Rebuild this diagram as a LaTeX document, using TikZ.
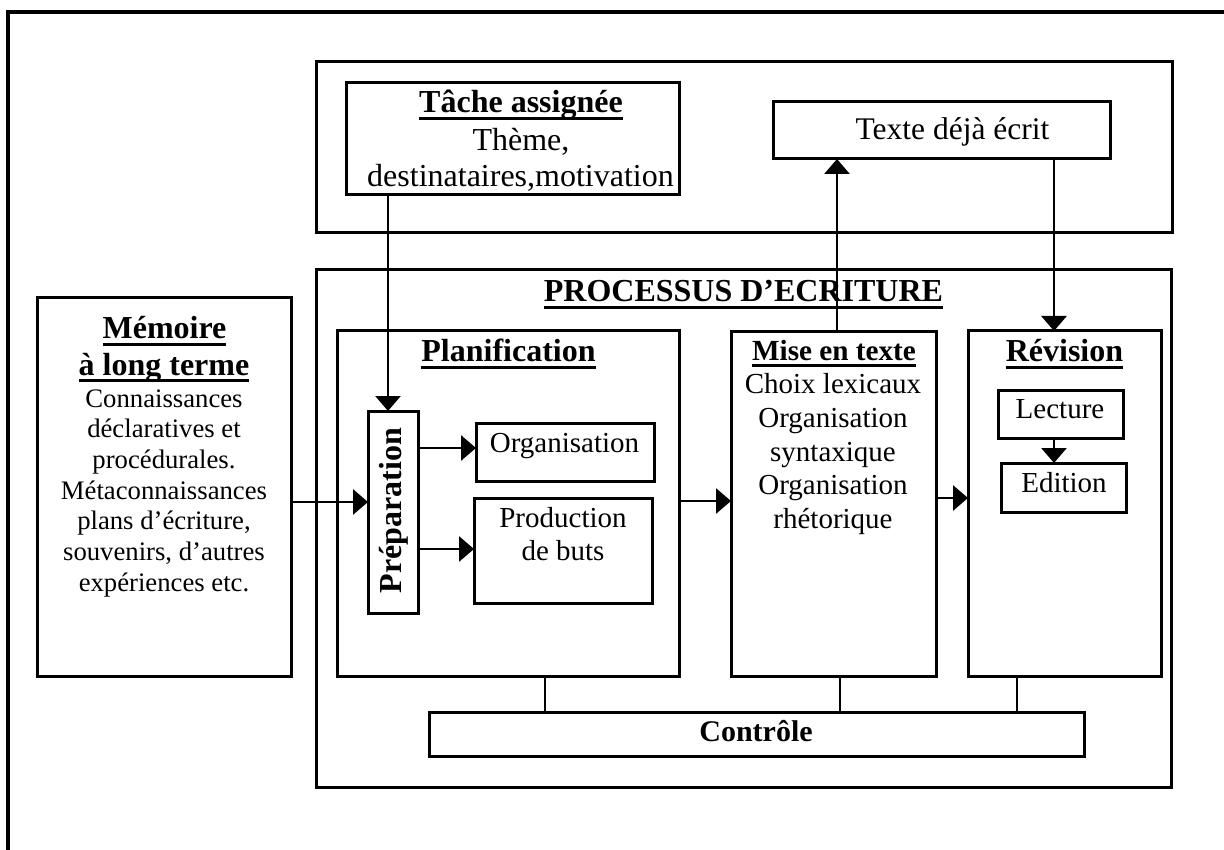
\documentclass[tikz,border=0pt]{standalone}
\usepackage{fontspec}
\setmainfont{Liberation Serif}
\usetikzlibrary{arrows.meta}
\newcommand\ulx[1]{\setbox0\hbox{#1}\rlap{\rule[-7pt]{\wd0}{3pt}}\box0}
\begin{document}
\begin{tikzpicture}[x=1pt,y=-1pt,
  box/.style={draw, line width=3pt, inner sep=0pt, outer sep=0pt},
  conn/.style={line width=2.2pt},
  arr/.style={line width=2.8pt, -{Triangle[width=25pt,length=15pt]}},
  txt/.style={inner sep=0pt, anchor=base},
  fs/.style={font=\fontsize{#1}{#1}\selectfont},
  bfs/.style={font=\fontsize{#1}{#1}\selectfont\bfseries}]
\useasboundingbox (0,0) rectangle (1224,850);
\draw[line width=4pt] (1226,12) -- (8,12) -- (8,852);

% boxes
\node[box, minimum width=856, minimum height=171] (env) at (744,147.5) {};
\node[box, minimum width=333, minimum height=112] (tache) at (512.5,139) {};
\node[box, minimum width=337, minimum height=57] (texte) at (941.5,130.5) {};
\node[box, minimum width=855, minimum height=517] (proc) at (743.5,528.5) {};
\node[box, minimum width=254, minimum height=378] (mem) at (164,487) {};
\node[box, minimum width=342, minimum height=345] (plan) at (508,503.5) {};
\node[box, minimum width=50, minimum height=202] (prep) at (393,512) {};
\node[box, minimum width=178, minimum height=58] (orga) at (565,452) {};
\node[box, minimum width=178, minimum height=105] (prod) at (563,550.5) {};
\node[box, minimum width=205, minimum height=344] (mise) at (833.5,504) {};
\node[box, minimum width=193, minimum height=345] (rev) at (1064.5,503.5) {};
\node[box, minimum width=125, minimum height=48] (lect) at (1060.5,414) {};
\node[box, minimum width=125, minimum height=49] (edit) at (1063.5,487.5) {};
\node[box, minimum width=655, minimum height=44] (ctrl) at (756.5,734) {};

% helper coordinates
\coordinate (xp) at (388,0);
\coordinate (xt) at (837,0);
\coordinate (xa) at (1054,0);
\coordinate (ym) at (0,502);
\coordinate (yo) at (0,448);
\coordinate (yq) at (0,549);
\coordinate (yc) at (0,501);
\coordinate (yr) at (0,498);
\coordinate (c1) at (545,0);
\coordinate (c2) at (840,0);
\coordinate (c3) at (1017,0);

% connectors
\draw[arr] (tache.south -| xp) -- (prep.north -| xp);
\draw[arr] (mise.north -| xt) -- (texte.south -| xt);
\draw[arr] (texte.south -| xa) -- (rev.north -| xa);
\draw[arr] (mem.east |- ym) -- (prep.west |- ym);
\draw[arr] (prep.east |- yo) -- (orga.west |- yo);
\draw[arr] (prep.east |- yq) -- (prod.west |- yq);
\draw[arr] (plan.east |- yc) -- (mise.west |- yc);
\draw[arr] (mise.east |- yr) -- (rev.west |- yr);
\draw[arr] (lect.south -| xa) -- (edit.north -| xa);
\draw[conn] (plan.south -| c1) -- (ctrl.north -| c1);
\draw[conn] (mise.south -| c2) -- (ctrl.north -| c2);
\draw[conn] (rev.south -| c3) -- (ctrl.north -| c3);

% texts
\node[txt, bfs=32] (tproc) at (743.5,302) {\ulx{PROCESSUS D’ECRITURE}};
\node[txt, bfs=32] (ttache) at (521,113) {\ulx{Tâche assignée}};
\node[txt, fs=32] (ttache2) at (521,151) {Thème,};
\node[txt, fs=32] (ttache3) at (520.5,187) {destinataires,motivation};
\node[txt, fs=31.5] (ttexte) at (952.5,140) {Texte déjà écrit};
\node[txt, bfs=32] (tmem1) at (164.5,339) {\ulx{Mémoire}};
\node[txt, bfs=32] (tmem2) at (164,375) {\ulx{à long terme}};
\foreach \t [count=\i] in {Connaissances, déclaratives et, procédurales., Métaconnaissances, {plans d’écriture,}, {souvenirs, d’autres}, expériences etc.}
  \node[txt, fs=26.7] (tm\i) at (164,407+30.7*\i-30.7) {\t};
\node[txt, bfs=32] (tplan) at (508.5,362) {\ulx{Planification}};
\node[txt, bfs=32, rotate=90] (tprep) at (401,510.5) {Préparation};
\node[txt, fs=29] (torga) at (564.5,452) {Organisation};
\node[txt, fs=29] (tprod1) at (563,527) {Production};
\node[txt, fs=29] (tprod2) at (563,560) {de buts};
\node[txt, bfs=29.2] (tmise) at (834,360) {\ulx{Mise en texte}};
\foreach \t/\y [count=\i] in {Choix lexicaux/393, Organisation/427, syntaxique/461, Organisation/494, rhétorique/528}
  \node[txt, fs=29] (ts\i) at (833,\y) {\t};
\node[txt, bfs=32] (trev) at (1064.5,362) {\ulx{Révision}};
\node[txt, fs=29] (tlect) at (1060,418) {Lecture};
\node[txt, fs=29] (tedit) at (1064,492) {Edition};
\node[txt, bfs=30] (tctrl) at (756,741) {Contrôle};
\end{tikzpicture}
\end{document}
